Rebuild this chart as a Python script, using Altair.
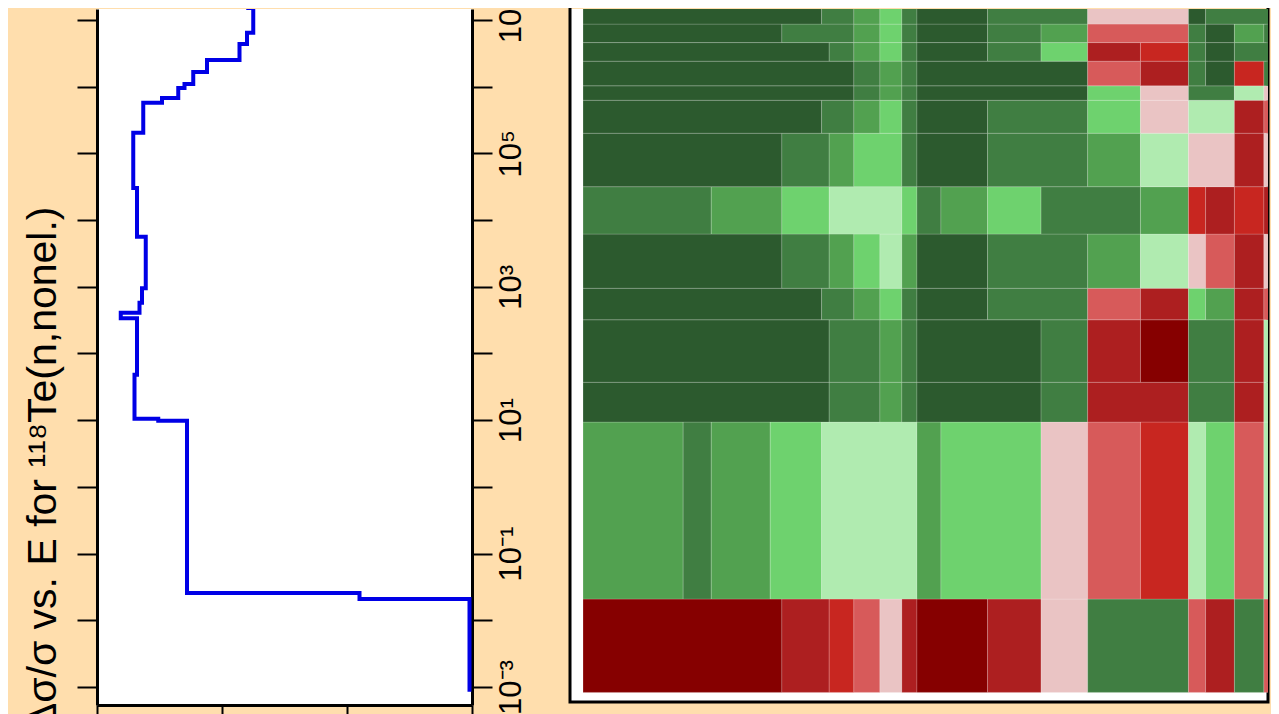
import altair as alt
import pandas as pd

# ---------------- Left panel: relative uncertainty vs energy (step function) ----------------
# group boundaries, log10(E / eV), bottom to top
energy_edges_log10 = [-3.07, -1.68, -1.59, 0.99, 1.02, 1.68, 2.53, 2.61, 2.76, 2.98, 3.75,
                      4.48, 5.31, 5.76, 5.83, 5.98, 6.04, 6.22, 6.40, 6.64, 6.81, 7.18, 7.29]
# relative uncertainty in each group (axis units 0..30)
rel_unc = [29.8, 21.0, 7.2, 4.9, 3.0, 3.2, 1.9, 3.4, 3.6, 3.9, 3.2,
           2.9, 3.7, 5.2, 6.5, 7.0, 7.7, 8.8, 11.4, 12.0, 12.5, 12.1]
unc_last = 29.8

x_ticks = [0, 10, 20, 30]
y_ticks = list(range(-3, 8))

# ---------------- Right panel: correlation matrix ----------------
hm_x_edges = [-2.94, -1.48, -1.07, -0.21, -0.04, 0.54, 0.65, 1.01, 1.39, 1.71, 1.93,
              2.28, 2.96, 3.74, 4.42, 5.19, 5.89, 6.14, 6.56, 6.99, 7.13]
hm_y_edges = [-2.94, -1.58, 1.00, 1.58, 2.49, 2.95, 3.74, 4.43, 5.21, 5.69, 5.90,
              6.26, 6.53, 6.80, 7.13]
# rows bottom -> top, one letter per column (A..E greens dark->pale, F..J reds pale->dark)
hm_rows = [
    "JJJJIIHGFIJJIFBBGIBG",
    "CBCDDEEEEECDDFGHEDGE",
    "AAAAAABBCBAAABIIBBIE",
    "AAAAAABBCBAAABIJBBIE",
    "AAAAABBCDBAABBGIDCIG",
    "AAAABBCDECAABBCEFGIF",
    "BBCCDDEEEDBCDBBCHIHI",
    "AAAABBCDDBAABBCEFFIF",
    "AAAAABBCDBAABBDFEEIG",
    "AAAAAAABCBAAAADFBBEF",
    "AAAAAAABCBAAAAGIBAHB",
    "AAAAAABCDBAABDIHBABB",
    "AAAABBBCDBAABCGGBACB",
    "AAAAABBCDBAABBFFABBB",
]
codes = list("ABCDEFGHIJ")
palette = ["#2C5A2E", "#407E42", "#52A150", "#6ED26E", "#B0EBB0",
           "#EAC4C4", "#D75A5A", "#C82620", "#AD1F20", "#860000"]

# ---------------- build tables ----------------
pts = []
for i, v in enumerate(rel_unc):
    pts.append({"u": v, "logE": energy_edges_log10[i], "k": 2 * i})
    pts.append({"u": v, "logE": energy_edges_log10[i + 1], "k": 2 * i + 1})
pts.append({"u": unc_last, "logE": energy_edges_log10[-1], "k": 2 * len(rel_unc)})
step_df = pd.DataFrame(pts)

cells = []
for r, row in enumerate(hm_rows):
    c = 0
    while c < len(row):
        c2 = c
        while c2 + 1 < len(row) and row[c2 + 1] == row[c]:
            c2 += 1
        cells.append({"x0": hm_x_edges[c], "x1": hm_x_edges[c2 + 1],
                      "y0": hm_y_edges[r], "y1": hm_y_edges[r + 1], "code": row[c]})
        c = c2 + 1
cell_df = pd.DataFrame(cells)

FONT = "Liberation Sans"
x_scale = alt.Scale(domain=[0, 30], nice=False, zero=False)
y_scale = alt.Scale(domain=[-3.27, 7.165], nice=False, zero=False)

x_axis = alt.Axis(values=x_ticks, labels=False, title=None, grid=False,
                  domainColor="black", domainWidth=3, tickColor="black",
                  tickWidth=2, tickSize=20)

label_expr = ("datum.value == 7 ? '10⁷' : datum.value == 5 ? '10⁵' : "
              "datum.value == 3 ? '10³' : datum.value == 1 ? '10¹' : "
              "datum.value == -1 ? '10⁻¹' : datum.value == -3 ? '10⁻³' : ''")

base = alt.Chart(step_df)

line_left = base.mark_line(color="#0000E6", strokeWidth=4, clip=True).encode(
    x=alt.X("u:Q", scale=x_scale, axis=x_axis),
    y=alt.Y("logE:Q", scale=y_scale, axis=alt.Axis(
        orient="left", values=y_ticks, labels=False, grid=False,
        tickSize=20, tickWidth=2, tickColor="black",
        domainColor="black", domainWidth=3,
        title="Δσ/σ vs. E for ¹¹⁸Te(n,nonel.)",
        titleFont=FONT, titleFontSize=41, titleFontWeight="normal",
        titleColor="black", titleAngle=270, titleAlign="right",
        titleBaseline="alphabetic", titleX=-42, titleY=197)),
    order="k:Q",
)

line_right = base.mark_line(color="#0000E6", strokeWidth=4, strokeOpacity=0, clip=True).encode(
    x=alt.X("u:Q", scale=x_scale, axis=x_axis),
    y=alt.Y("logE:Q", scale=y_scale, axis=alt.Axis(
        orient="right", values=y_ticks, grid=False, title=None,
        tickSize=20, tickWidth=2, tickColor="black",
        domainColor="black", domainWidth=3,
        labelExpr=label_expr, labelFont=FONT, labelFontSize=31,
        labelColor="black", labelAngle=270, labelAlign="center",
        labelBaseline="top", labelPadding=4, labelOverlap=False)),
    order="k:Q",
)

left = alt.layer(line_left, line_right).resolve_axis(y="independent").properties(
    width=375, height=696,
    view=alt.ViewBackground(fill="white", strokeWidth=0),
)

HM_W, HM_H = 698, 693
hx_scale = alt.Scale(domain=[-3.13, 7.05], nice=False, zero=False)
hy_scale = alt.Scale(domain=[-3.08, 7.02], nice=False, zero=False)

# frame on right, bottom and left sides only (top edge is cropped in the reference)
frame_visible = 2 * HM_H + HM_W

right = alt.Chart(cell_df).mark_rect(clip=True, stroke="white", strokeWidth=0.8,
                                     strokeOpacity=0.22).encode(
    x=alt.X("x0:Q", scale=hx_scale, axis=None),
    x2="x1:Q",
    y=alt.Y("y0:Q", scale=hy_scale, axis=None),
    y2="y1:Q",
    color=alt.Color("code:N", scale=alt.Scale(domain=codes, range=palette), legend=None),
).properties(
    width=HM_W, height=HM_H,
    view=alt.ViewBackground(fill="white", stroke="black", strokeWidth=3,
                            strokeCap="square",
                            strokeDash=[frame_visible, HM_W],
                            strokeDashOffset=frame_visible),
)

chart = alt.hconcat(left, right, spacing=98, bounds="flush").properties(
    padding={"left": 14, "top": -11, "right": 0, "bottom": -15},
).configure(background="#FFDEAD").configure_view(strokeWidth=0)

chart.save("out.html", embed_options={"renderer": "svg", "actions": False})
